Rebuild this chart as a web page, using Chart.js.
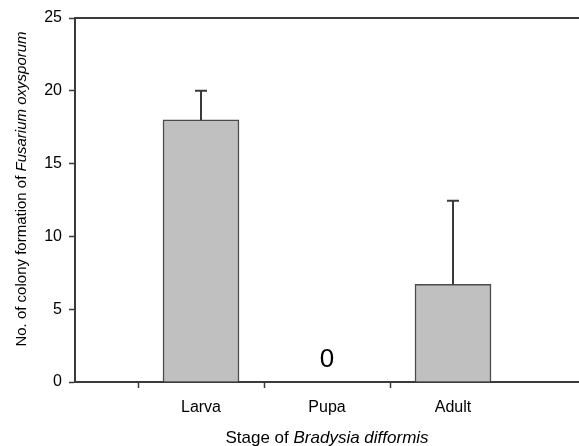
<!DOCTYPE html>
<html>
<head>
<meta charset="utf-8">
<script src="https://cdn.jsdelivr.net/npm/chart.js@4"></script>
<style>
  html, body { margin: 0; padding: 0; background: #fff; }
  #wrap { width: 579px; height: 446px; }
</style>
</head>
<body>
<div id="wrap"><canvas id="myChart"></canvas></div>
<script>
// stages (blank slots at both ends leave the empty space left and right)
var stages = ['', 'Larva', 'Pupa', 'Adult', ''];
var means = [null, 18, 0, 6.7, null];
var errUpper = [null, 20, null, 12.45, null];
var yTicks = [0, 5, 10, 15, 20, 25];

var FONT = '"Liberation Sans", Arial, sans-serif';
var AXIS = '#3a3a3a';

// error bars, the "0" label, top frame line and the mixed italic axis titles
var extras = {
    id: 'extras',
    afterDatasetsDraw: function(chart) {
        var ctx = chart.ctx;
        var x = chart.scales.x, y = chart.scales.y;
        var area = chart.chartArea;
        ctx.save();
        ctx.strokeStyle = AXIS;
        ctx.lineWidth = 2;
        for (var i = 0; i < stages.length; i++) {
            if (errUpper[i] == null) continue;
            var px = x.getPixelForValue(i);
            var top = y.getPixelForValue(errUpper[i]);
            var base = y.getPixelForValue(means[i]);
            ctx.beginPath();
            ctx.moveTo(px, base);
            ctx.lineTo(px, top);
            ctx.moveTo(px - 6, top);
            ctx.lineTo(px + 6, top);
            ctx.stroke();
        }
        // top frame
        ctx.beginPath();
        ctx.moveTo(area.left, area.top);
        ctx.lineTo(chart.width, area.top);
        ctx.stroke();

        // zero label on Pupa
        ctx.fillStyle = '#000';
        ctx.font = '26px ' + FONT;
        ctx.textAlign = 'center';
        ctx.textBaseline = 'alphabetic';
        ctx.fillText('0', x.getPixelForValue(2), y.getPixelForValue(0) - 15);

        // x title
        drawMixed(ctx, [['Stage of ', 'normal'], ['Bradysia difformis', 'italic']],
            (area.left + area.right) / 2, 438, 0, 17);
        // y title
        drawMixed(ctx, [['No. of colony formation of ', 'normal'], ['Fusarium oxysporum', 'italic']],
            22, (area.top + area.bottom) / 2 - 11, -Math.PI / 2, 15);
        ctx.restore();
    }
};

function drawMixed(ctx, parts, cx, cy, rot, size) {
    ctx.save();
    ctx.translate(cx, cy);
    ctx.rotate(rot);
    ctx.textBaseline = 'middle';
    ctx.textAlign = 'left';
    ctx.fillStyle = '#000';
    var total = 0;
    parts.forEach(function(p) {
        ctx.font = p[1] + ' ' + size + 'px ' + FONT;
        total += ctx.measureText(p[0]).width;
    });
    var pos = -total / 2;
    parts.forEach(function(p) {
        ctx.font = p[1] + ' ' + size + 'px ' + FONT;
        ctx.fillText(p[0], pos, 0);
        pos += ctx.measureText(p[0]).width;
    });
    ctx.restore();
}

var ctx = document.getElementById('myChart').getContext('2d');
var myChart = new Chart(ctx, {
    type: 'bar',
    data: {
        labels: stages,
        datasets: [{
            data: means,
            backgroundColor: '#c0c0c0',
            borderColor: '#4a4a4a',
            borderWidth: 1.5,
            barThickness: 76
        }]
    },
    options: {
        responsive: true,
        maintainAspectRatio: false,
        animation: false,
        layout: { padding: { top: 18, right: 0, left: 0, bottom: 0 } },
        plugins: {
            legend: { display: false },
            tooltip: { enabled: false }
        },
        scales: {
            x: {
                offset: false,
                grid: {
                    display: true,
                    drawOnChartArea: false,
                    tickLength: 6,
                    tickColor: function(c) {
                        return (c.index === 0 || c.index === stages.length - 1) ? 'rgba(0,0,0,0)' : AXIS;
                    },
                    tickWidth: 1.5
                },
                border: { color: AXIS, width: 2 },
                ticks: {
                    color: '#000',
                    font: { family: FONT, size: 16 },
                    padding: 10,
                    maxRotation: 0,
                    autoSkip: false
                },
                afterFit: function(s) {
                    s.height = 64;
                    s.paddingLeft = 0;
                    s.paddingRight = 0;
                }
            },
            y: {
                min: 0,
                max: 25,
                afterBuildTicks: function(s) {
                    s.ticks = yTicks.map(function(v) { return { value: v }; });
                },
                grid: {
                    display: true,
                    drawOnChartArea: false,
                    tickLength: 6,
                    tickColor: AXIS,
                    tickWidth: 1.5
                },
                border: { color: AXIS, width: 2 },
                ticks: {
                    color: '#000',
                    font: { family: FONT, size: 16 },
                    padding: 7
                },
                afterFit: function(s) { s.width = 75; }
            }
        }
    },
    plugins: [extras]
});
</script>
</body>
</html>
